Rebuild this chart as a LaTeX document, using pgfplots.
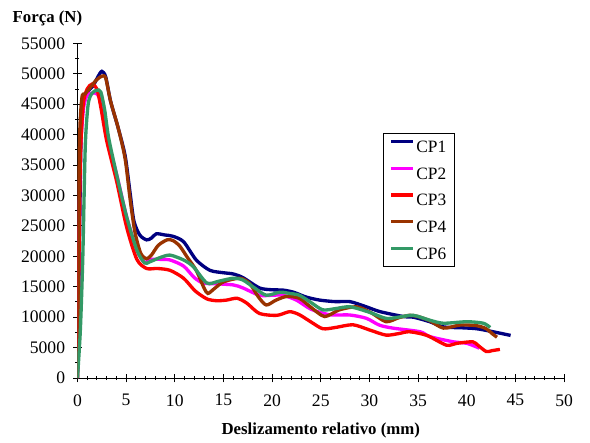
\documentclass[border=0pt]{standalone}
\usepackage{fontspec}
\setmainfont{Liberation Serif}
\usepackage{pgfplots}
\pgfplotsset{compat=1.18}

\definecolor{cpone}{RGB}{0,0,128}
\definecolor{cptwo}{RGB}{255,0,255}
\definecolor{cpthree}{RGB}{255,0,0}
\definecolor{cpfour}{RGB}{153,51,0}
\definecolor{cpsix}{RGB}{51,153,102}

\begin{document}
\begin{tikzpicture}
\begin{axis}[
    scale only axis,
    width=365pt, height=251pt,
    xmin=0, xmax=50, ymin=0, ymax=55000,
    axis lines=left,
    axis line style={-, line width=0.7pt},
    xtick={0,5,...,50},
    ytick={0,5000,...,55000},
    minor x tick num=4,
    minor y tick num=1,
    tick align=center,
    major tick length=6.5pt,
    minor tick length=3pt,
    tick style={line width=0.7pt, black},
    scaled y ticks=false,
    /pgf/number format/1000 sep={},
    /pgf/number format/assume math mode=true,
    tick label style={font=\fontsize{13.2}{15}\selectfont},
    xticklabel style={yshift=-5.5pt},
    yticklabel style={xshift=-2.5pt},
    xlabel={\textbf{Deslizamento relativo (mm)}},
    xlabel style={font=\fontsize{12.6}{14}\selectfont, at={(axis description cs:0.5,0)}, anchor=base, yshift=-42pt},
    legend cell align=left,
    legend style={at={(rel axis cs:0.627,0.733)}, anchor=north west,
        draw=black, line width=0.7pt,
        font=\fontsize{13}{15}\selectfont,
        inner xsep=5pt, inner ysep=4.5pt,
        row sep=9pt,
        nodes={inner sep=1pt, text height=9pt, text depth=0pt}},
    legend image code/.code={\draw[#1] (0pt,3.5pt) -- (16.5pt,3.5pt);},
    every axis plot/.append style={line width=2.5pt, smooth, tension=0.45},
]
\addplot[cpone] coordinates {
(0,0) (0.15,15000) (0.35,38000) (0.6,45500) (1.0,47000) (1.6,48000) (2.1,49500) (2.5,50400) (2.9,49500) (3.4,45500) (4.2,41000) (4.9,36500) (5.4,30500) (5.8,25800) (6.4,23500) (7.1,22700) (7.6,23000) (8.1,23700) (9.0,23500) (9.8,23300) (10.9,22400) (12.2,19400) (13.6,17700) (15,17300) (16,17100) (17,16500) (18.7,14800) (20,14500) (21.1,14450) (22.2,14100) (23.5,13300) (24.9,12800) (26.5,12550) (28,12550) (29.5,11800) (31.1,10900) (33.5,10100) (34.5,10000) (36.2,9250) (37.6,8400) (39.5,8250) (41,8100) (42.7,7600) (44.5,7000)
};
\addlegendentry{CP1}
\addplot[cptwo] coordinates {
(0,0) (0.1,10000) (0.25,35000) (0.6,44000) (1.0,46500) (1.5,46800) (2.0,46700) (2.5,45000) (3.0,39600) (4.0,33600) (5.05,26500) (6.1,21000) (6.9,19000) (7.44,19500) (8.5,19500) (9.5,19400) (10.9,18400) (12.0,16500) (12.9,15600) (14,15500) (16,15300) (17,14800) (18.7,13600) (20,13600) (21.1,13600) (22.5,12800) (24,11300) (25.9,10400) (28,10350) (29.7,9800) (31,8700) (32.4,8200) (35.2,7600) (36.2,6800) (38.6,5950) (40,5700) (41.3,4900)
};
\addlegendentry{CP2}
\addplot[cpthree] coordinates {
(0,0) (0.1,12000) (0.3,36000) (0.6,45000) (1.0,47500) (1.5,48300) (2.0,47500) (2.4,44500) (3.0,39000) (4.0,32500) (5.05,24800) (6.1,19500) (7.1,18000) (8.2,18000) (9.5,17700) (10.9,16400) (12.1,14300) (13.3,13000) (14.3,12700) (15.3,12800) (16.4,13100) (17.4,12300) (18.7,10600) (20.5,10300) (21.8,10900) (22.8,10400) (24,9200) (25.2,8100) (26.5,8300) (28.3,8750) (30,7900) (31.7,7050) (33,7300) (34.1,7600) (35.9,7000) (37.9,5400) (39,5700) (40.6,5950) (41.2,5300) (42.0,4350) (42.6,4500) (43.4,4700)
};
\addlegendentry{CP3}
\addplot[cpfour] coordinates {
(0,0) (0.05,10000) (0.2,38000) (0.45,46000) (0.8,46700) (1.3,47700) (1.9,48900) (2.5,49600) (2.9,49300) (3.4,45500) (4.2,41000) (4.9,36000) (5.4,29500) (5.9,24000) (6.5,20500) (7.1,19600) (7.6,20200) (8.3,21800) (9.2,22700) (9.8,22600) (10.5,21700) (11.3,19800) (12.2,17700) (13.0,14800) (13.4,13900) (14.0,14600) (15,15800) (16.7,16400) (17.7,15500) (18.6,13300) (19.4,12000) (20.4,12800) (21.5,13400) (22.8,13100) (24,11600) (25.4,10100) (26.9,11200) (28.7,11700) (30.2,10700) (31.7,9250) (33,9900) (34.1,10300) (35,10100) (36.2,9400) (37.6,8200) (39.3,8700) (41,8600) (42,8100) (42.6,7300) (43.1,6700)
};
\addlegendentry{CP4}
\addplot[cpsix] coordinates {
(0,0) (0.3,8000) (0.55,20000) (0.8,38000) (1.1,45000) (1.5,46800) (2.0,47300) (2.4,47000) (2.8,44000) (3.2,39500) (4.0,33600) (5.05,26500) (6.1,21000) (6.9,18900) (7.44,19100) (8.5,19800) (9.5,20200) (10.9,19400) (11.9,18300) (13.3,15600) (14.5,15900) (16,16400) (17,16100) (18.2,14800) (19.4,13600) (20.8,14100) (21.8,13900) (22.8,13600) (24,12400) (25.2,11200) (26.5,11400) (28,11700) (30,10800) (31.7,9800) (33,10000) (34.5,10300) (36.2,9500) (37.6,9000) (40,9250) (41.7,9000) (42.4,8300)
};
\addlegendentry{CP6}
\coordinate (O) at (rel axis cs:0,0);
\coordinate (T) at (rel axis cs:0,1);
\end{axis}
\node[anchor=base, font=\fontsize{12.6}{14}\selectfont] at ([xshift=-22.5pt,yshift=16pt]T) {\textbf{Força (N)}};
\path[use as bounding box] (O) ++(-58.1pt,-47.25pt) rectangle ++(442.5pt,330.75pt);
\end{tikzpicture}
\end{document}
